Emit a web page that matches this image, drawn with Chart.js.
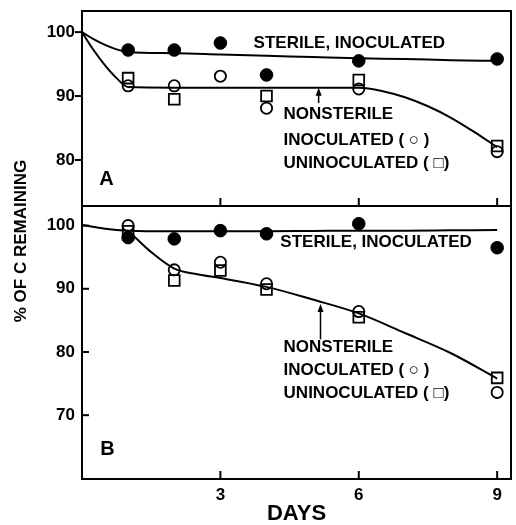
<!DOCTYPE html>
<html><head><meta charset="utf-8">
<script src="https://cdn.jsdelivr.net/npm/chart.js@4.4.0/dist/chart.umd.min.js"></script>
<style>html,body{margin:0;padding:0;background:#fff;}#wrap{position:relative;width:516px;height:525px;}canvas{display:block}</style>
</head><body><div id="wrap"><canvas id="c" width="516" height="525"></canvas></div>
<script>
// ---- data ----
const days = [1, 2, 3, 4, 6, 9];
const xTicks = [3, 6, 9];
const yTicksA = [80, 90, 100];
const yTicksB = [70, 80, 90, 100];

// Panel A
const aSterile = [97.2, 97.2, 98.3, 93.3, 95.5, 95.8];
const aInoculated = [91.6, 91.6, 93.1, 88.1, 91.1, 81.3];
const aUninoculated = [92.8, 89.5, null, 90.0, 92.5, 82.2];
const fitDaysSterileA = [0, 0.25, 0.5, 0.75, 1, 2, 3, 4, 5, 6, 7, 8, 9];
const fitSterileA = [100, 98.9, 98.0, 97.3, 96.9, 96.7, 96.5, 96.3, 96.1, 95.9, 95.8, 95.6, 95.5];
const fitDaysNonA = [0, 0.25, 0.5, 0.75, 1, 2, 3, 4, 5, 6, 6.5, 7, 7.5, 8, 8.5, 9];
const fitNonA = [100, 97.2, 94.8, 92.8, 91.4, 91.3, 91.3, 91.3, 91.3, 91.3, 90.8, 89.8, 88.4, 86.6, 84.4, 82.0];

// Panel B
const bSterile = [98.1, 97.9, 99.2, 98.7, 100.3, 96.5];
const bInoculated = [100.0, 93.0, 94.2, 90.8, 86.4, 73.6];
const bUninoculated = [99.1, 91.3, 92.9, 89.9, 85.5, 75.9];
const fitDaysSterileB = [0, 0.5, 1, 2, 3, 4, 5, 6, 7, 8, 9];
const fitSterileB = [100.1, 99.5, 99.2, 99.1, 99.1, 99.1, 99.15, 99.2, 99.2, 99.25, 99.3];
const fitDaysNonB = [1, 1.5, 2, 2.5, 3, 4, 5, 6, 7, 8, 9];
const fitNonB = [99.2, 95.8, 93.2, 92.3, 91.7, 90.3, 88.3, 86.1, 83.0, 79.8, 75.8];

// ---- annotations (text in data units of each panel) ----
const notes = [
  {axis: 'yA', x: 3.72, y: 98.3, text: 'STERILE, INOCULATED'},
  {axis: 'yA', x: 4.37, y: 87.2, text: 'NONSTERILE'},
  {axis: 'yA', x: 4.37, y: 83.1, text: 'INOCULATED ( \u25CB )'},
  {axis: 'yA', x: 4.37, y: 79.5, text: 'UNINOCULATED ( \u25A1)'},
  {axis: 'yB', x: 4.3, y: 97.3, text: 'STERILE, INOCULATED'},
  {axis: 'yB', x: 4.37, y: 80.7, text: 'NONSTERILE'},
  {axis: 'yB', x: 4.37, y: 77.1, text: 'INOCULATED ( \u25CB )'},
  {axis: 'yB', x: 4.37, y: 73.5, text: 'UNINOCULATED ( \u25A1)'}
];
const panelLabels = [
  {axis: 'yA', x: 0.53, y: 76.9, text: 'A'},
  {axis: 'yB', x: 0.55, y: 64.6, text: 'B'}
];
const arrows = [
  {axis: 'yA', x: 5.13, y0: 88.9, y1: 91.3},
  {axis: 'yB', x: 5.17, y0: 82.0, y1: 87.6}
];

const FONT = '"Liberation Sans", Arial, Helvetica, "DejaVu Sans", sans-serif';
const pts = (xs, ys) => xs.map((x, i) => ({x: x, y: ys[i]}));

function fitSet(xs, ys, axis) {
  return {type: 'line', data: pts(xs, ys), yAxisID: axis, borderColor: '#000', borderWidth: 2,
    pointRadius: 0, fill: false, cubicInterpolationMode: 'monotone', order: 5};
}
function markSet(ys, axis, style) {
  const filled = style === 'filled';
  return {type: 'line', data: pts(days, ys), yAxisID: axis, showLine: false,
    pointStyle: style === 'square' ? 'rect' : 'circle',
    pointRadius: style === 'square' ? 7.6 : (filled ? 6.3 : 5.6),
    pointBorderWidth: filled ? 1 : 1.8,
    pointBackgroundColor: filled ? '#000' : 'rgba(0,0,0,0)',
    pointBorderColor: '#000', order: 1};
}

const deco = {
  id: 'deco',
  afterDraw(chart) {
    const ctx = chart.ctx, ca = chart.chartArea, xs = chart.scales.x;
    ctx.save();
    ctx.strokeStyle = '#000'; ctx.fillStyle = '#000'; ctx.lineWidth = 2;
    const line = (a, b, c, d) => { ctx.beginPath(); ctx.moveTo(a, b); ctx.lineTo(c, d); ctx.stroke(); };
    for (const id of ['yA', 'yB']) {
      const s = chart.scales[id];
      ctx.strokeRect(ca.left, s.top, ca.right - ca.left, s.bottom - s.top);
      for (const v of xTicks) { const px = xs.getPixelForValue(v); line(px, s.bottom, px, s.bottom - 8); }
    }
    for (const v of yTicksA) { const py = chart.scales.yA.getPixelForValue(v); line(ca.left - 7, py, ca.left, py); }
    for (const v of yTicksB) { const py = chart.scales.yB.getPixelForValue(v); line(ca.left, py, ca.left + 7, py); }

    ctx.textBaseline = 'middle'; ctx.textAlign = 'left';
    ctx.font = 'bold 17px ' + FONT;
    for (const n of notes) {
      ctx.fillText(n.text, xs.getPixelForValue(n.x), chart.scales[n.axis].getPixelForValue(n.y));
    }
    ctx.textAlign = 'center';
    ctx.font = 'bold 20px ' + FONT;
    for (const n of panelLabels) {
      ctx.fillText(n.text, xs.getPixelForValue(n.x), chart.scales[n.axis].getPixelForValue(n.y));
    }
    ctx.lineWidth = 1.5;
    for (const a of arrows) {
      const s = chart.scales[a.axis];
      const px = xs.getPixelForValue(a.x), p0 = s.getPixelForValue(a.y0), p1 = s.getPixelForValue(a.y1);
      line(px, p0, px, p1 + 6);
      ctx.beginPath(); ctx.moveTo(px, p1); ctx.lineTo(px - 3, p1 + 8); ctx.lineTo(px + 3, p1 + 8); ctx.closePath(); ctx.fill();
    }
    // y-axis title
    ctx.save();
    ctx.translate(21, (ca.top + ca.bottom) / 2 - 4);
    ctx.rotate(-Math.PI / 2);
    ctx.font = 'bold 17px ' + FONT;
    ctx.textAlign = 'center'; ctx.textBaseline = 'middle';
    ctx.fillText('% OF C REMAINING', 0, 0);
    ctx.restore();
    ctx.restore();
  }
};

const tickFont = {family: FONT, size: 17, weight: 'bold'};
function yScale(ticks, min, max, weight) {
  return {type: 'linear', position: 'left', stack: 'panels', stackWeight: weight, min: min, max: max,
    afterBuildTicks: s => { s.ticks = ticks.map(v => ({value: v})); },
    grid: {display: false, drawTicks: false}, border: {display: false},
    ticks: {color: '#000', font: tickFont, padding: 7},
    afterFit: s => { s.width = 82; s.paddingTop = 0; s.paddingBottom = 0; }};
}

new Chart(document.getElementById('c'), {
  type: 'line',
  data: {datasets: [
    fitSet(fitDaysSterileA, fitSterileA, 'yA'),
    fitSet(fitDaysNonA, fitNonA, 'yA'),
    markSet(aSterile, 'yA', 'filled'),
    markSet(aInoculated, 'yA', 'open'),
    markSet(aUninoculated, 'yA', 'square'),
    fitSet(fitDaysSterileB, fitSterileB, 'yB'),
    fitSet(fitDaysNonB, fitNonB, 'yB'),
    markSet(bSterile, 'yB', 'filled'),
    markSet(bInoculated, 'yB', 'open'),
    markSet(bUninoculated, 'yB', 'square')
  ]},
  options: {
    responsive: false, animation: false, devicePixelRatio: 1,
    layout: {autoPadding: false, padding: {top: 11, right: 5, left: 0, bottom: 0}},
    plugins: {legend: {display: false}, tooltip: {enabled: false}},
    scales: {
      x: {type: 'linear', min: 0, max: 9.3,
        afterBuildTicks: s => { s.ticks = xTicks.map(v => ({value: v})); },
        grid: {display: false, drawTicks: false}, border: {display: false},
        ticks: {color: '#000', font: tickFont, padding: 6, maxRotation: 0},
        title: {display: true, text: 'DAYS', color: '#000', font: {family: FONT, size: 22, weight: 'bold', lineHeight: 1}, padding: {top: 0, bottom: 0}},
        afterFit: s => { s.height = 46; s.paddingLeft = 0; s.paddingRight = 0; }},
      yB: yScale(yTicksB, 59.9, 103.1, 273),
      yA: yScale(yTicksA, 72.8, 103.3, 195)
    }
  },
  plugins: [deco]
});
</script></body></html>
